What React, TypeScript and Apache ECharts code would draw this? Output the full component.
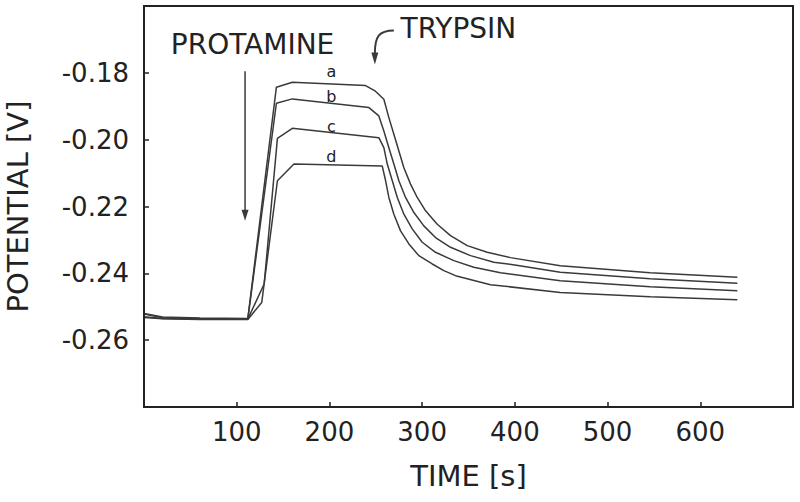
import { useEffect, useRef } from 'react';
import * as echarts from 'echarts';

// Time [s] / potential [V] pairs
const curveA: number[][] = [
  [0, -0.2520], [20, -0.2531], [60, -0.2534], [112, -0.2535], [142.8, -0.1843], [160, -0.1828],
  [239, -0.1838], [249.6, -0.1855], [258.7, -0.1879], [264.1, -0.1934], [269.5, -0.1984],
  [274.9, -0.2034], [280.3, -0.2084], [287.5, -0.2133], [294.7, -0.2173], [303.7, -0.2213],
  [316.3, -0.2253], [330.6, -0.2287], [348.6, -0.2317], [370.2, -0.2337], [395.2, -0.2353],
  [449, -0.2377], [546, -0.2398], [640, -0.2412],
];
const curveB: number[][] = [
  [0, -0.2522], [20, -0.2533], [60, -0.2535], [112, -0.2536], [142.8, -0.1891], [160, -0.1878],
  [242.6, -0.1904], [253.3, -0.1929], [258.7, -0.1974], [264.1, -0.2024], [269.5, -0.2073],
  [274.9, -0.2123], [282.1, -0.2173], [291.1, -0.2218], [301.8, -0.2258], [314.4, -0.2293],
  [330.6, -0.2322], [352.2, -0.2347], [377.3, -0.2367], [400, -0.2375], [449, -0.2397],
  [546, -0.2416], [640, -0.2430],
];
const curveC: number[][] = [
  [0, -0.2530], [20, -0.2535], [60, -0.2537], [112, -0.2537], [129.6, -0.2432], [143.9, -0.1996],
  [160, -0.1966], [253.3, -0.1994], [258.7, -0.2024], [262.4, -0.2073], [267.8, -0.2123],
  [273.2, -0.2173], [280.3, -0.2223], [289.3, -0.2267], [300.1, -0.2307], [314.4, -0.2337],
  [334.2, -0.2362], [355.7, -0.2382], [384.5, -0.2398], [449, -0.2422], [546, -0.2440],
  [640, -0.2452],
];
const curveD: number[][] = [
  [0, -0.2532], [20, -0.2536], [60, -0.2538], [112, -0.2538], [127, -0.2487], [143.9, -0.2123],
  [161.7, -0.2073], [257, -0.2079], [260.6, -0.2123], [264.1, -0.2173], [269.5, -0.2223],
  [276.7, -0.2273], [285.7, -0.2312], [296.4, -0.2347], [310.9, -0.2372], [323.4, -0.2392],
  [336, -0.2407], [373.7, -0.2434], [449, -0.2457], [546, -0.2470], [640, -0.2479],
];
const curveNames = ['a', 'b', 'c', 'd'];
// label anchors for the curve letters
const letterPos: number[][] = [[202, -0.1795], [202, -0.1872], [202, -0.1962], [202, -0.2049]];

const xMin = 0;
const xMax = 700;
const xInterval = 100;
const yMin = -0.28;
const yMax = -0.16;
const yInterval = 0.02;

// annotation anchors (data coordinates)
const protamineText: number[] = [28.9, -0.1715];
const protamineArrow: number[][] = [[109, -0.1795], [109, -0.2243]];
const trypsinText: number[] = [276.7, -0.1668];
const trypsinTip: number[] = [249, -0.1775];

const FONT = 'DejaVu Sans';
const INK = '#222';
const LINE = '#3a3a3a';

export default function App() {
  const ref = useRef<HTMLDivElement>(null);
  useEffect(() => {
    if (!ref.current) return;
    const chart = echarts.init(ref.current, null, { renderer: 'svg' });
    const curves = [curveA, curveB, curveC, curveD];
    chart.setOption({
      animation: false,
      backgroundColor: '#fff',
      grid: { left: 144, top: 6, right: 7, bottom: 95, containLabel: false, outerBoundsMode: 'none' },
      xAxis: {
        type: 'value', min: xMin, max: xMax, interval: xInterval,
        name: 'TIME [s]', nameLocation: 'middle', nameGap: 54,
        nameTextStyle: { fontFamily: FONT, fontSize: 29, color: INK },
        axisLine: { show: true, onZero: false, lineStyle: { color: INK, width: 2 } },
        axisTick: { show: true, inside: true, length: 5, lineStyle: { color: INK, width: 1.5 } },
        axisLabel: { showMinLabel: false, showMaxLabel: false, fontFamily: FONT, fontSize: 26, color: INK, margin: 12 },
        splitLine: { show: false },
      },
      yAxis: {
        type: 'value', min: yMin, max: yMax, interval: yInterval,
        name: 'POTENTIAL [V]', nameLocation: 'middle', nameGap: 112,
        nameTextStyle: { fontFamily: FONT, fontSize: 29, color: INK },
        axisLine: { show: true, onZero: false, lineStyle: { color: INK, width: 2 } },
        axisTick: { show: true, inside: true, length: 5, lineStyle: { color: INK, width: 1.5 } },
        axisLabel: {
          showMinLabel: false, showMaxLabel: false, fontFamily: FONT, fontSize: 26, color: INK, margin: 15,
          formatter: (v: number) => v.toFixed(2),
        },
        splitLine: { show: false },
      },
      series: curves.map((data, i) => ({
        type: 'line',
        name: curveNames[i],
        data,
        showSymbol: false,
        lineStyle: { color: LINE, width: 1.5 },
        markPoint: {
          symbol: 'circle', symbolSize: 0,
          data: [{ coord: letterPos[i], value: curveNames[i] }],
          label: { show: true, position: 'inside', formatter: curveNames[i], fontFamily: FONT, fontSize: 16, color: INK },
        },
      })),
    });

    const px = (p: number[]) => chart.convertToPixel({ gridIndex: 0 }, p) as number[];
    const tl = px([xMin, yMax]);
    const br = px([xMax, yMin]);
    const pt = px(protamineText);
    const pa0 = px(protamineArrow[0]);
    const pa1 = px(protamineArrow[1]);
    const tt = px(trypsinText);
    const tip = px(trypsinTip);
    chart.setOption({
      graphic: [
        {
          type: 'rect', z: 100,
          shape: { x: tl[0], y: tl[1], width: br[0] - tl[0], height: br[1] - tl[1] },
          style: { fill: 'none', stroke: INK, lineWidth: 2 },
        },
        {
          type: 'text', x: pt[0], y: pt[1],
          style: { text: 'PROTAMINE', fontFamily: FONT, fontSize: 28, fill: INK, textVerticalAlign: 'middle', textAlign: 'left' },
        },
        {
          type: 'line',
          shape: { x1: pa0[0], y1: pa0[1], x2: pa1[0], y2: pa1[1] - 10 },
          style: { stroke: LINE, lineWidth: 1.5 },
        },
        {
          type: 'polygon',
          shape: { points: [[pa1[0] - 3.5, pa1[1] - 11], [pa1[0] + 3.5, pa1[1] - 11], [pa1[0], pa1[1]]] },
          style: { fill: LINE },
        },
        {
          type: 'text', x: tt[0], y: tt[1],
          style: { text: 'TRYPSIN', fontFamily: FONT, fontSize: 28, fill: INK, textVerticalAlign: 'middle', textAlign: 'left' },
        },
        {
          type: 'bezierCurve',
          shape: {
            x1: tip[0] + 19, y1: tip[1] - 34,
            cpx1: tip[0] + 4, cpy1: tip[1] - 34,
            cpx2: tip[0], cpy2: tip[1] - 28,
            x2: tip[0], y2: tip[1] - 11,
          },
          style: { stroke: LINE, lineWidth: 2, fill: 'none' },
        },
        {
          type: 'polygon',
          shape: { points: [[tip[0] - 3.5, tip[1] - 12], [tip[0] + 3.5, tip[1] - 12], [tip[0], tip[1]]] },
          style: { fill: LINE },
        },
      ],
    });
    return () => chart.dispose();
  }, []);
  return <div ref={ref} style={{ position: 'absolute', left: 0, top: 0, width: 800, height: 502 }} />;
}
